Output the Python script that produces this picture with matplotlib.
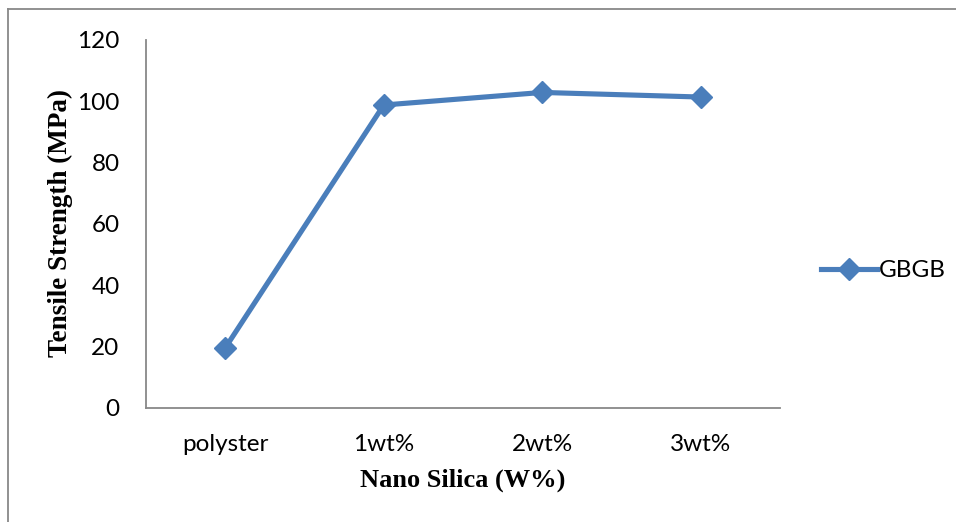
import matplotlib
matplotlib.use("Agg")
import matplotlib.pyplot as plt
from matplotlib.lines import Line2D

categories = ["polyster", "1wt%", "2wt%", "3wt%"]
values = [19.6, 98.8, 102.9, 101.4]
series_name = "GBGB"
yticks = [0, 20, 40, 60, 80, 100, 120]

blue = "#4A7EBB"
tick_font = ["Lato", "DejaVu Sans"]

fig = plt.figure(figsize=(9.56, 5.22), dpi=100)
ax = fig.add_axes([146/956, 1-408/522, (780-146)/956, (408-40)/522])

x = list(range(len(categories)))
line, = ax.plot(x, values, color=blue, lw=3.7, marker="D", markersize=11.5,
                markerfacecolor=blue, markeredgecolor=blue, label=series_name)

ax.set_xlim(-0.5, len(categories) - 0.5)
ax.set_ylim(0, 120)
ax.set_yticks(yticks)
ax.set_xticks(x)
ax.set_xticklabels(categories)
for lab in ax.get_xticklabels() + ax.get_yticklabels():
    lab.set_fontfamily(tick_font)
    lab.set_fontsize(17.5)
ax.tick_params(length=0)
ax.tick_params(axis="y", pad=19)
ax.tick_params(axis="x", pad=19)

for s in ["top", "right"]:
    ax.spines[s].set_visible(False)
for s in ["left", "bottom"]:
    ax.spines[s].set_color("#888888")
    ax.spines[s].set_linewidth(1.3)

ax.set_xlabel("Nano Silica (W%)", fontfamily="Liberation Serif", fontweight="bold",
              fontsize=19)
ax.xaxis.set_label_coords(0.5, (408-469)/368)
ax.set_ylabel("Tensile Strength (MPa)", fontfamily="Liberation Serif", fontweight="bold",
              fontsize=19.5)
ax.yaxis.set_label_coords((73-146)/634, (408-223)/368)

leg = ax.legend(loc="center left", bbox_to_anchor=(1.03, 0.373), frameon=False,
                handlelength=2.3, handletextpad=0.1,
                prop={"family": tick_font, "size": 17.5})

# outer frame lines (top and left)
fig.add_artist(Line2D([8/956, 8/956], [0, 1-9/522], transform=fig.transFigure,
                      color="#888888", lw=1.3))
fig.add_artist(Line2D([8/956, 1], [1-9/522, 1-9/522], transform=fig.transFigure,
                      color="#888888", lw=1.3))

fig.savefig("out.png", dpi=100)
